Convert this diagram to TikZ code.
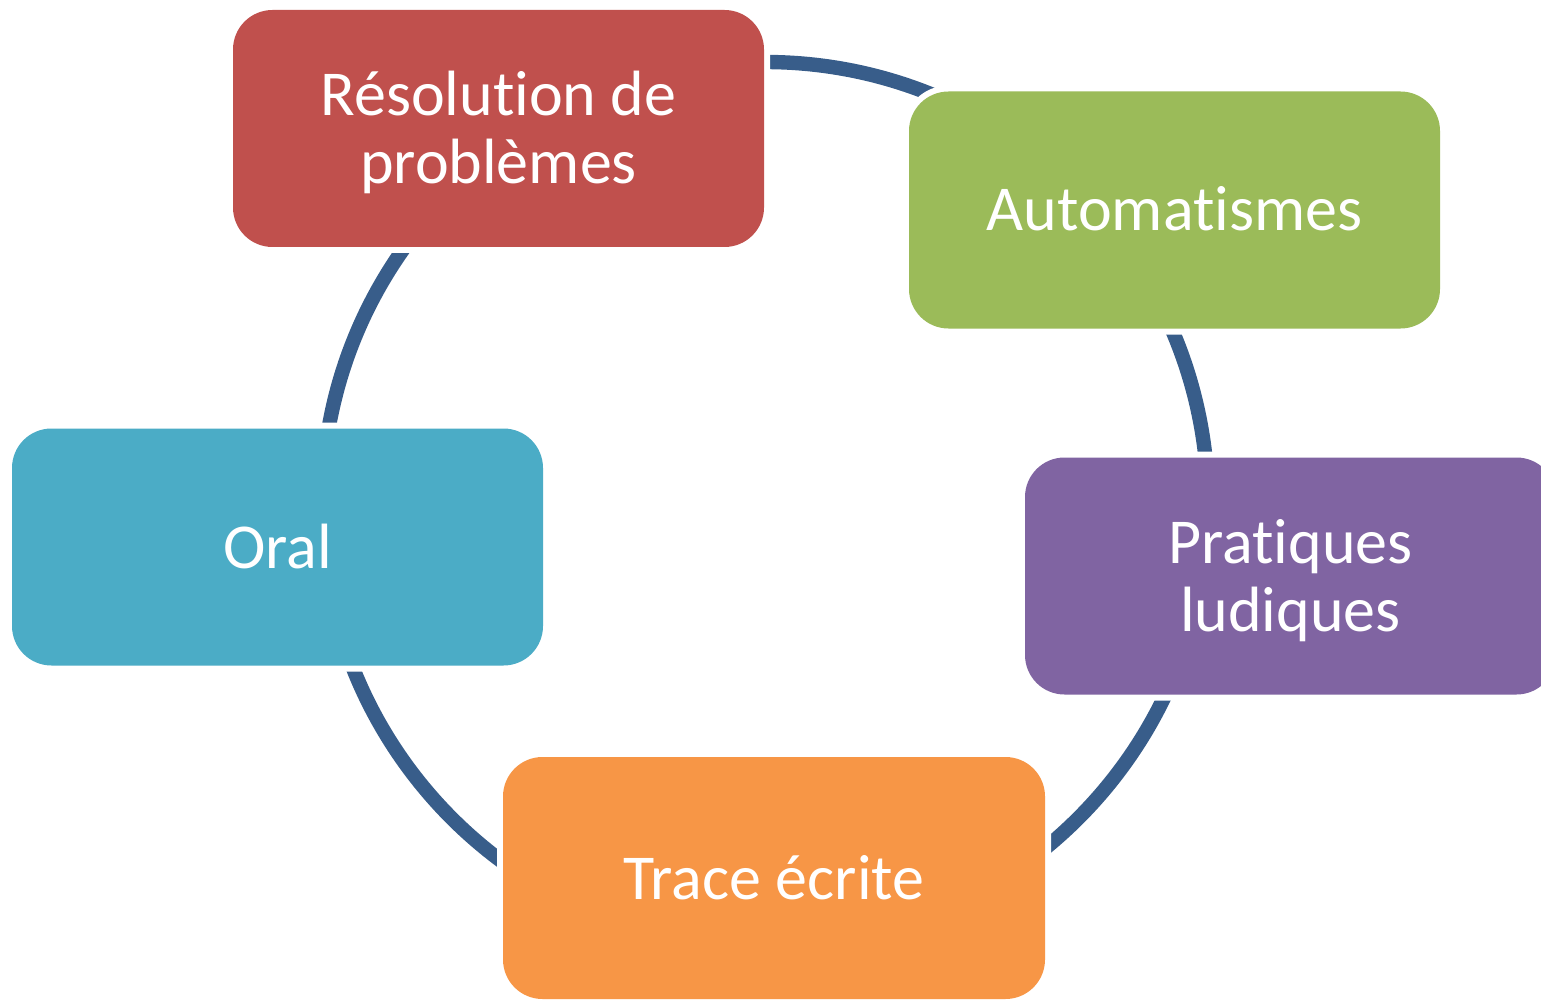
\documentclass[tikz,border=0pt]{standalone}
\usepackage{fontspec}
\setmainfont{Carlito}[Ligatures=NoCommon]
\definecolor{cRed}{HTML}{C0504D}
\definecolor{cGreen}{HTML}{9BBB59}
\definecolor{cPurple}{HTML}{8064A2}
\definecolor{cOrange}{HTML}{F79646}
\definecolor{cBlue}{HTML}{4BACC6}
\definecolor{cRing}{HTML}{385D8A}
\newcommand\strA{\rule{0pt}{30pt}}
\newcommand\strB{\rule[-9pt]{0pt}{9pt}}
\begin{document}
\lineskiplimit=-100pt
\begin{tikzpicture}[x=0.5pt,y=-0.5pt,
  box/.style={rectangle, rounded corners=19.75pt, minimum width=265.5pt,
    minimum height=118.5pt, inner sep=0pt, text=white,
    font=\fontsize{32}{34}\selectfont, align=center,
    preaction={draw=white, line width=6pt}},
  ring/.style={draw=cRing, line width=7.2pt}]
\useasboundingbox (0,0) rectangle (1541,1000);
\coordinate (c) at (765,505);
\draw[ring] (c) circle[radius=443];
\node[box, fill=cRed] (r) at (498.5,128.5) {\strA Résolution de\\problèmes\strB};
\node[box, fill=cGreen] (a) at (1174.5,210) {\strA Automatismes\strB};
\node[box, fill=cPurple] (p) at (1290.5,576) {\strA Pratiques\\ludiques\strB};
\node[box, fill=cOrange, minimum width=271pt, minimum height=121pt] (t) at (774,878) {\strA Trace écrite\strB};
\node[box, fill=cBlue] (o) at (277.5,547) {\strA Oral\strB};
\end{tikzpicture}
\end{document}
